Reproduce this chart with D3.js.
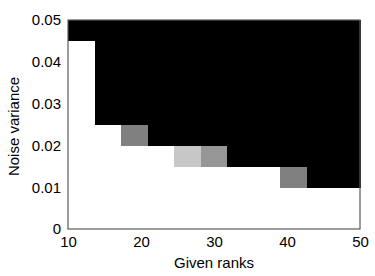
<!DOCTYPE html>
<html>
<head>
<meta charset="utf-8">
<script src="https://cdn.jsdelivr.net/npm/d3@7/dist/d3.min.js"></script>
<style>
    body { margin: 0; background: #fff; }
    svg { display: block; }
    text { font-family: "Liberation Sans", Arial, sans-serif; fill: #000; }
</style>
</head>
<body>
<div class="chart"></div>
<script>
// column bands over the given ranks (11 columns from 10 to 50)
const rankColumns = ["c0", "c1", "c2", "c3", "c4", "c5", "c6", "c7", "c8", "c9", "c10"];
// row bands over noise variance, bottom to top (0 .. 0.05 by 0.005)
const noiseRows = ["r0", "r1", "r2", "r3", "r4", "r5", "r6", "r7", "r8", "r9"];

// cell values, one list per row from the bottom; 0 = white, 1 = black
const row0 = [0, 0, 0, 0, 0, 0, 0, 0, 0, 0, 0];
const row1 = [0, 0, 0, 0, 0, 0, 0, 0, 0, 0, 0];
const row2 = [0, 0, 0, 0, 0, 0, 0, 0, 0.5, 1, 1];
const row3 = [0, 0, 0, 0, 0.22, 0.41, 1, 1, 1, 1, 1];
const row4 = [0, 0, 0.5, 1, 1, 1, 1, 1, 1, 1, 1];
const row5 = [0, 1, 1, 1, 1, 1, 1, 1, 1, 1, 1];
const row6 = [0, 1, 1, 1, 1, 1, 1, 1, 1, 1, 1];
const row7 = [0, 1, 1, 1, 1, 1, 1, 1, 1, 1, 1];
const row8 = [0, 1, 1, 1, 1, 1, 1, 1, 1, 1, 1];
const row9 = [1, 1, 1, 1, 1, 1, 1, 1, 1, 1, 1];
const cellRows = [row0, row1, row2, row3, row4, row5, row6, row7, row8, row9];

const xTicks = [10, 20, 30, 40, 50];
const yTicks = [0, 0.01, 0.02, 0.03, 0.04, 0.05];
const xTickLabels = ["10", "20", "30", "40", "50"];
const yTickLabels = ["0", "0.01", "0.02", "0.03", "0.04", "0.05"];

const width = 375;
const height = 276;
const margin = { top: 20, right: 15, bottom: 47, left: 68 };
const plotWidth = width - margin.left - margin.right;
const plotHeight = height - margin.top - margin.bottom;

const scale_x = d3.scaleLinear().domain([10, 50]).range([0, plotWidth]);
const scale_y = d3.scaleLinear().domain([0, 0.05]).range([plotHeight, 0]);

const band_x = d3.scaleBand().domain(rankColumns).range([scale_x(10), scale_x(50)]);
// reversed range: band_y(row) already gives the top edge of that row
const band_y = d3.scaleBand().domain(noiseRows).range([scale_y(0), scale_y(0.05)]);

const shade = d3.scaleLinear().domain([0, 1]).range(["#ffffff", "#000000"]);

const cells = [];
cellRows.forEach((values, r) => {
    values.forEach((v, c) => {
        cells.push({ row: noiseRows[r], col: rankColumns[c], value: v });
    });
});

const svg = d3.select(".chart")
    .append("svg")
    .attr("width", width)
    .attr("height", height);

const plot = svg.append("g")
    .attr("transform", `translate(${margin.left},${margin.top})`);

plot.selectAll(".cell")
    .data(cells)
    .join("rect")
    .attr("class", "cell")
    .attr("x", d => band_x(d.col))
    .attr("y", d => band_y(d.row))
    .attr("width", band_x.bandwidth() + 0.5)
    .attr("height", band_y.bandwidth() + 0.5)
    .attr("fill", d => shade(d.value))
    .attr("shape-rendering", "crispEdges");

// box around the plot
plot.append("rect")
    .attr("x", 0)
    .attr("y", 0)
    .attr("width", plotWidth)
    .attr("height", plotHeight)
    .attr("fill", "none")
    .attr("stroke", "#5a5a5a")
    .attr("stroke-width", 1.2);

const xAxis = d3.axisBottom(scale_x)
    .tickValues(xTicks)
    .tickFormat((d, i) => xTickLabels[i])
    .tickSize(0)
    .tickPadding(7);

const yAxis = d3.axisLeft(scale_y)
    .tickValues(yTicks)
    .tickFormat((d, i) => yTickLabels[i])
    .tickSize(0)
    .tickPadding(7);

const gx = plot.append("g")
    .attr("transform", `translate(0,${plotHeight})`)
    .call(xAxis);

const gy = plot.append("g").call(yAxis);

[gx, gy].forEach(g => {
    g.select(".domain").remove();
    g.selectAll("text")
        .attr("font-size", 15)
        .attr("font-family", "Liberation Sans, Arial, sans-serif")
        .attr("fill", "#000");
});

svg.append("text")
    .attr("x", margin.left + plotWidth / 2)
    .attr("y", 268)
    .attr("text-anchor", "middle")
    .attr("font-size", 15)
    .text("Given ranks");

svg.append("text")
    .attr("transform", `translate(19,${margin.top + plotHeight / 2 + 2}) rotate(-90)`)
    .attr("text-anchor", "middle")
    .attr("font-size", 15)
    .text("Noise variance");
</script>
</body>
</html>
